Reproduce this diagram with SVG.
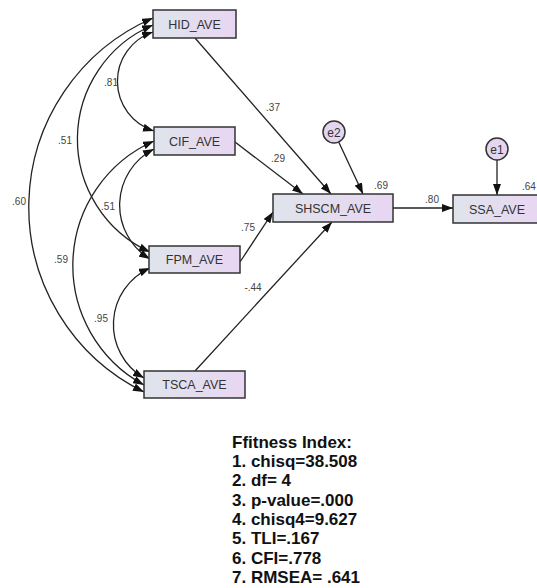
<svg xmlns="http://www.w3.org/2000/svg" width="537" height="588" viewBox="0 0 537 588">
<style>
.box{stroke:#333;stroke-width:1.5;fill:url(#g)}
.circ{stroke:#333;stroke-width:1.5;fill:#e4d6ef}
.bt{font-family:"Liberation Sans",Arial,sans-serif;font-size:12.5px;fill:#333;text-anchor:middle}
.lb{font-family:"Liberation Sans",Arial,sans-serif;font-size:10px;fill:#444;text-anchor:middle}
.ln{stroke:#222;stroke-width:1.3;fill:none}
.fit{font-family:"Liberation Sans",Arial,sans-serif;font-size:17px;font-weight:bold;fill:#111}
</style>
<defs>
<linearGradient id="g" x1="0" y1="0" x2="1" y2="0">
<stop offset="0" stop-color="#dfe4ec"/>
<stop offset="1" stop-color="#e8d6f2"/>
</linearGradient>
<marker id="ah" markerUnits="userSpaceOnUse" markerWidth="12" markerHeight="8" refX="11" refY="4" orient="auto-start-reverse" viewBox="0 0 12 8">
<path d="M0,0 L11,4 L0,8 z" fill="#111"/>
</marker>
</defs>
<g id="connectors">
<path class="ln" d="M153,18 A206,206 0 0 0 144,392" marker-start="url(#ah)" marker-end="url(#ah)"/>
<path class="ln" d="M153,25 A124,124 0 0 0 150,252" marker-start="url(#ah)" marker-end="url(#ah)"/>
<path class="ln" d="M153,32 A52,52 0 0 0 154,131" marker-start="url(#ah)" marker-end="url(#ah)"/>
<path class="ln" d="M154,149 A63,63 0 0 0 150,259" marker-start="url(#ah)" marker-end="url(#ah)"/>
<path class="ln" d="M154,141 A136,136 0 0 0 144,385" marker-start="url(#ah)" marker-end="url(#ah)"/>
<path class="ln" d="M150,268 A62,62 0 0 0 144,378" marker-start="url(#ah)" marker-end="url(#ah)"/>
<line class="ln" x1="195" y1="38" x2="331" y2="194" marker-end="url(#ah)"/>
<line class="ln" x1="235" y1="142" x2="303" y2="194" marker-end="url(#ah)"/>
<line class="ln" x1="338.7" y1="142" x2="363" y2="194" marker-end="url(#ah)"/>
<line class="ln" x1="240" y1="262" x2="273" y2="212" marker-end="url(#ah)"/>
<line class="ln" x1="195" y1="371" x2="332" y2="222" marker-end="url(#ah)"/>
<line class="ln" x1="393" y1="208" x2="453" y2="208" marker-end="url(#ah)"/>
<line class="ln" x1="497" y1="160" x2="497" y2="195" marker-end="url(#ah)"/>
<text class="lb" x="111" y="86">.81</text>
<text class="lb" x="65" y="144">.51</text>
<text class="lb" x="19" y="205">.60</text>
<text class="lb" x="108" y="210">.51</text>
<text class="lb" x="61" y="263">.59</text>
<text class="lb" x="101" y="322">.95</text>
<text class="lb" x="273" y="111">.37</text>
<text class="lb" x="278" y="162">.29</text>
<text class="lb" x="248" y="231">.75</text>
<text class="lb" x="253" y="291">-.44</text>
<text class="lb" x="432" y="203">.80</text>
</g>
<g id="HID_AVE"><rect class="box" x="153" y="10" width="83" height="28"/><text class="bt" x="194.5" y="28.5">HID_AVE</text></g>
<g id="CIF_AVE"><rect class="box" x="154" y="127" width="81" height="28"/><text class="bt" x="194.5" y="145.5">CIF_AVE</text></g>
<g id="FPM_AVE"><rect class="box" x="149" y="246" width="91" height="27"/><text class="bt" x="194.5" y="264">FPM_AVE</text></g>
<g id="TSCA_AVE"><rect class="box" x="144" y="371" width="101" height="27"/><text class="bt" x="194.5" y="389">TSCA_AVE</text></g>
<g id="SHSCM_AVE"><rect class="box" x="273" y="194" width="120" height="28"/><text class="bt" x="333" y="212.5">SHSCM_AVE</text><text class="lb" x="381" y="189">.69</text></g>
<g id="SSA_AVE"><rect class="box" x="453" y="195" width="88" height="28"/><text class="bt" x="497" y="213.5">SSA_AVE</text><text class="lb" x="522" y="190" style="text-anchor:start">.64</text></g>
<g id="e2"><circle class="circ" cx="334" cy="132" r="11"/><text class="bt" x="334" y="136.5" style="font-size:12px">e2</text></g>
<g id="e1"><circle class="circ" cx="497" cy="149" r="11"/><text class="bt" x="497" y="153.5" style="font-size:12px">e1</text></g>
<g id="fitness">
<text class="fit" x="232" y="448">Ffitness Index:</text>
<text class="fit" x="232" y="467">1. chisq=38.508</text>
<text class="fit" x="232" y="486">2. df= 4</text>
<text class="fit" x="232" y="505.5">3. p-value=.000</text>
<text class="fit" x="232" y="525">4. chisq4=9.627</text>
<text class="fit" x="232" y="544">5. TLI=.167</text>
<text class="fit" x="232" y="563.5">6. CFI=.778</text>
<text class="fit" x="232" y="582.5">7. RMSEA= .641</text>
</g>
</svg>
